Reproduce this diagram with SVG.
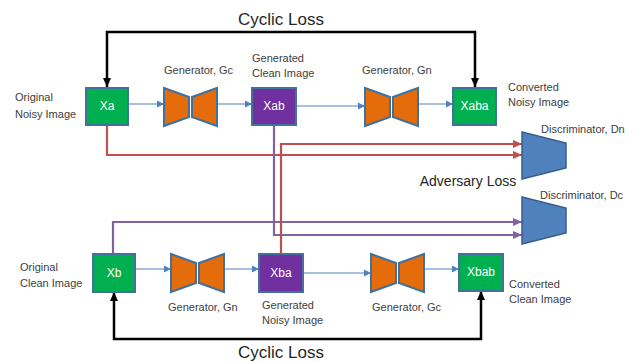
<svg xmlns="http://www.w3.org/2000/svg" xmlns:xlink="http://www.w3.org/1999/xlink" width="641" height="362" viewBox="0 0 641 362">
<style>
.lbl{font-family:"Liberation Sans",Arial,sans-serif;font-size:11px;fill:#404040}
.big{font-family:"Liberation Sans",Arial,sans-serif;fill:#262626}
.box{stroke:#41719C;stroke-width:2}
.green{fill:#00B050}
.purple{fill:#7030A0}
.bt{font-family:"Liberation Sans",Arial,sans-serif;font-size:12px;fill:#FFFFFF;text-anchor:middle}
.gen{fill:#E46C0A;stroke:#41719C;stroke-width:2;stroke-linejoin:miter}
.disc{fill:#4F81BD;stroke:#385D8A;stroke-width:1.5}
.blue{stroke:#4F81BD;stroke-width:1.2;fill:none}
.red{stroke:#C0504D;stroke-width:2.2;fill:none}
.vio{stroke:#8064A2;stroke-width:2.2;fill:none}
.blk{stroke:#000000;stroke-width:2.5;fill:none}
</style>
<defs>
<marker id="ab" markerWidth="8" markerHeight="8" refX="7" refY="4" orient="auto" markerUnits="userSpaceOnUse"><path d="M0,0.5 L7,4 L0,7.5 Z" fill="#4F81BD"/></marker>
<marker id="ar" markerWidth="10" markerHeight="10" refX="9" refY="5" orient="auto" markerUnits="userSpaceOnUse"><path d="M0,1 L9,5 L0,9 Z" fill="#C0504D"/></marker>
<marker id="av" markerWidth="10" markerHeight="10" refX="9" refY="5" orient="auto" markerUnits="userSpaceOnUse"><path d="M0,1 L9,5 L0,9 Z" fill="#8064A2"/></marker>
<marker id="ak" markerWidth="10" markerHeight="10" refX="9" refY="5" orient="auto-start-reverse" markerUnits="userSpaceOnUse"><path d="M0,1 L9,5 L0,9 Z" fill="#000000"/></marker>
<g id="bow">
<polygon class="gen" points="0,0 25,9 25,29 0,38"/>
<polygon class="gen" points="28,9 53,0 53,38 28,29"/>
</g>
</defs>

<g id="connectors">
<path class="blk" d="M107,87 V32 H475 V87" marker-start="url(#ak)" marker-end="url(#ak)"/>
<path class="blk" d="M114,292 V339 H481 V291" marker-start="url(#ak)" marker-end="url(#ak)"/>
<path class="red" d="M107,125 V155 H522" marker-end="url(#ar)"/>
<path class="vio" d="M274,125 V235 H522" marker-end="url(#av)"/>
<path class="vio" d="M113,254 V222 H522" marker-end="url(#av)"/>
<path class="red" d="M281,254 V144 H522" marker-end="url(#ar)"/>
<path class="blue" d="M128,104 H164" marker-end="url(#ab)"/>
<path class="blue" d="M217,104 H252" marker-end="url(#ab)"/>
<path class="blue" d="M296,106 H365" marker-end="url(#ab)"/>
<path class="blue" d="M418,104 H453" marker-end="url(#ab)"/>
<path class="blue" d="M135,269 H171" marker-end="url(#ab)"/>
<path class="blue" d="M224,269 H259" marker-end="url(#ab)"/>
<path class="blue" d="M303,273 H371" marker-end="url(#ab)"/>
<path class="blue" d="M424,269 H459" marker-end="url(#ab)"/>
</g>

<text class="big" x="281" y="25" font-size="17" text-anchor="middle">Cyclic Loss</text>
<text class="big" x="281" y="357.5" font-size="17" text-anchor="middle">Cyclic Loss</text>
<text class="big" x="468" y="186" font-size="14" text-anchor="middle">Adversary Loss</text>

<g id="Xa">
<rect class="box green" x="86" y="88" width="42" height="37"/>
<text class="bt" x="107" y="110">Xa</text>
<text class="lbl" x="15" y="101">Original</text>
<text class="lbl" x="15" y="118">Noisy Image</text>
</g>
<g id="Gc_top">
<use xlink:href="#bow" href="#bow" x="164" y="88"/>
<text class="lbl" x="164" y="74">Generator, Gc</text>
</g>
<g id="Xab">
<rect class="box purple" x="252" y="88" width="44" height="37"/>
<text class="bt" x="274" y="110">Xab</text>
<text class="lbl" x="252" y="62">Generated</text>
<text class="lbl" x="252" y="77">Clean Image</text>
</g>
<g id="Gn_top">
<use xlink:href="#bow" href="#bow" x="365" y="88"/>
<text class="lbl" x="362" y="74">Generator, Gn</text>
</g>
<g id="Xaba">
<rect class="box green" x="453" y="88" width="43" height="37"/>
<text class="bt" x="474.5" y="110">Xaba</text>
<text class="lbl" x="508" y="91">Converted</text>
<text class="lbl" x="508" y="106">Noisy Image</text>
</g>
<g id="Dn">
<polygon class="disc" points="522,132 566,143 566,168 522,179"/>
<text class="lbl" x="541" y="133">Discriminator, Dn</text>
</g>
<g id="Dc">
<polygon class="disc" points="522,197 566,208 566,233 522,244"/>
<text class="lbl" x="540" y="199">Discriminator, Dc</text>
</g>
<g id="Xb">
<rect class="box green" x="93" y="254" width="42" height="38"/>
<text class="bt" x="114" y="277">Xb</text>
<text class="lbl" x="20" y="271">Original</text>
<text class="lbl" x="20" y="287">Clean Image</text>
</g>
<g id="Gn_bottom">
<use xlink:href="#bow" href="#bow" x="171" y="254"/>
<text class="lbl" x="168" y="311">Generator, Gn</text>
</g>
<g id="Xba">
<rect class="box purple" x="259" y="254" width="44" height="38"/>
<text class="bt" x="281" y="277">Xba</text>
<text class="lbl" x="262" y="309">Generated</text>
<text class="lbl" x="262" y="324">Noisy Image</text>
</g>
<g id="Gc_bottom">
<use xlink:href="#bow" href="#bow" x="371" y="254"/>
<text class="lbl" x="372" y="311">Generator, Gc</text>
</g>
<g id="Xbab">
<rect class="box green" x="459" y="254" width="44" height="37"/>
<text class="bt" x="481" y="276">Xbab</text>
<text class="lbl" x="509" y="288">Converted</text>
<text class="lbl" x="509" y="303">Clean Image</text>
</g>
</svg>
